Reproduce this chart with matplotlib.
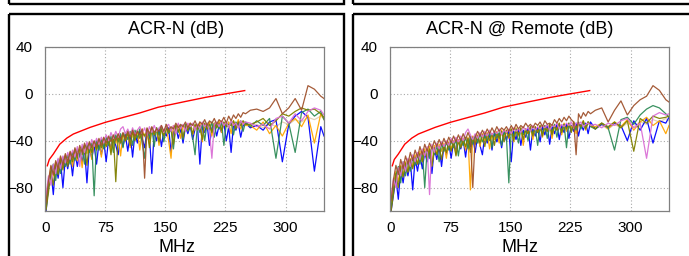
import matplotlib
matplotlib.use("Agg")
import matplotlib.pyplot as plt
from matplotlib.patches import Rectangle

plt.rcParams['font.family'] = ['Liberation Sans', 'DejaVu Sans']

# frequencies (MHz) shared by all pair traces
FREQ = [1, 4, 7, 10, 13, 16, 19, 22, 25, 28, 31, 34,
        37, 40, 43, 46, 49, 52, 55, 58, 61, 64, 67, 70,
        73, 76, 79, 82, 85, 88, 91, 94, 97, 100, 103, 106,
        109, 112, 115, 118, 121, 124, 127, 130, 133, 136, 139, 142,
        145, 148, 151, 154, 157, 160, 163, 166, 169, 172, 175, 178,
        181, 184, 187, 190, 193, 196, 199, 202, 205, 208, 211, 214,
        217, 220, 223, 226, 229, 232, 235, 238, 241, 244, 247, 250,
        256, 264, 272, 280, 288, 296, 304, 312, 320, 328, 336, 344, 348]

# limit line
LIMIT_F = [2.5, 5, 10, 18, 27, 35, 56, 75, 98, 118, 141, 175, 200, 225, 249]
LIMIT_DB = [-61.4, -56, -51.4, -43, -37.7, -34.3, -28.6, -24.3, -20, -16.3, -11.4,
            -6.5, -3, 0, 2.8]

# ACR-N, local end
L_TAN = [-90, -72, -68, -63, -60, -64, -57, -62, -55, -59, -53, -57,
         -50, -54, -48, -52, -46, -50, -45, -49, -44, -47, -43, -46,
         -42, -45, -41, -44, -40, -43, -39, -42, -38, -41, -37, -40,
         -36, -39, -35, -38, -34, -37, -34, -36, -33, -35, -32, -35,
         -31, -34, -31, -33, -30, -33, -30, -32, -29, -31, -28, -31,
         -28, -30, -27, -30, -27, -29, -26, -29, -26, -28, -25, -28,
         -25, -27, -24, -27, -24, -26, -24, -26, -23, -25, -23, -25,
         -27, -26, -29, -25, -28, -24, -26, -22, -24, -20, -22, -19, -21]
L_BLUE = [-100, -78, -66, -86, -60, -72, -57, -80, -55, -64, -52, -70,
          -50, -62, -49, -58, -47, -76, -45, -55, -44, -60, -42, -52,
          -40, -58, -39, -47, -38, -44, -52, -37, -45, -35, -49, -34,
          -54, -33, -42, -32, -38, -46, -31, -36, -68, -32, -40, -30,
          -45, -31, -36, -29, -50, -33, -28, -38, -30, -42, -28, -34,
          -27, -39, -30, -27, -60, -28, -33, -26, -44, -29, -26, -36,
          -27, -33, -25, -40, -28, -50, -26, -31, -25, -37, -27, -25,
          -29, -27, -31, -24, -22, -58, -26, -19, -15, -20, -66, -28, -36]
L_ORANGE = [-94, -76, -62, -70, -58, -66, -54, -63, -52, -59, -50, -62,
            -48, -57, -46, -63, -45, -51, -43, -56, -41, -47, -40, -54,
            -38, -45, -37, -49, -36, -42, -35, -53, -34, -40, -33, -46,
            -32, -39, -31, -48, -30, -36, -32, -43, -29, -35, -30, -44,
            -28, -34, -29, -40, -55, -27, -33, -26, -38, -27, -31, -28,
            -25, -35, -27, -31, -24, -41, -26, -30, -24, -36, -25, -29,
            -23, -33, -25, -28, -24, -34, -23, -29, -22, -30, -24, -27,
            -27, -31, -24, -34, -27, -36, -25, -21, -28, -18, -42, -17, -22]
L_GREEN = [-97, -80, -67, -60, -74, -56, -68, -54, -62, -52, -60, -50,
           -57, -47, -54, -45, -60, -43, -50, -42, -87, -40, -48, -39,
           -47, -37, -44, -36, -50, -35, -41, -34, -46, -33, -39, -32,
           -44, -31, -38, -30, -42, -55, -30, -37, -29, -45, -29, -35,
           -28, -41, -28, -34, -30, -47, -27, -33, -27, -39, -26, -32,
           -26, -37, -52, -26, -33, -25, -40, -25, -31, -24, -37, -25,
           -30, -24, -44, -25, -29, -24, -35, -24, -28, -23, -32, -24,
           -28, -23, -27, -21, -55, -19, -25, -50, -16, -13, -19, -15, -22]
L_OLIVE = [-99, -84, -66, -78, -59, -69, -56, -65, -53, -62, -51, -58,
           -48, -55, -47, -52, -44, -61, -42, -50, -41, -48, -40, -46,
           -39, -45, -38, -52, -36, -75, -35, -42, -34, -40, -33, -44,
           -32, -40, -31, -38, -33, -36, -30, -46, -30, -35, -29, -41,
           -30, -36, -28, -33, -29, -43, -27, -32, -28, -37, -27, -31,
           -27, -34, -26, -30, -27, -39, -25, -30, -26, -33, -25, -29,
           -25, -31, -24, -28, -26, -27, -23, -30, -24, -27, -23, -26,
           -26, -24, -21, -27, -23, -17, -19, -15, -12, -14, -13, -17, -20]
L_ORCHID = [-86, -70, -78, -60, -68, -55, -64, -53, -59, -50, -56, -48,
            -54, -45, -62, -43, -50, -41, -47, -39, -45, -38, -43, -37,
            -42, -35, -40, -33, -38, -32, -37, -30, -28, -34, -30, -36,
            -29, -35, -31, -28, -34, -29, -36, -28, -33, -27, -32, -29,
            -27, -33, -28, -26, -32, -27, -34, -25, -30, -26, -32, -25,
            -28, -25, -31, -26, -30, -24, -28, -25, -32, -55, -26, -24,
            -28, -23, -27, -24, -29, -23, -27, -25, -29, -23, -26, -24,
            -25, -28, -26, -30, -21, -19, -25, -17, -23, -15, -12, -14, -18]
L_BROWN = [-93, -74, -61, -69, -57, -64, -53, -61, -51, -58, -49, -55,
           -46, -53, -44, -50, -42, -48, -41, -46, -40, -45, -38, -44,
           -37, -42, -36, -41, -35, -40, -34, -39, -33, -38, -32, -37,
           -31, -36, -32, -35, -30, -72, -29, -34, -28, -33, -30, -32,
           -27, -32, -26, -31, -28, -30, -25, -29, -26, -28, -24, -29,
           -25, -27, -23, -28, -24, -26, -22, -27, -23, -25, -21, -26,
           -22, -24, -20, -25, -19, -23, -18, -21, -17, -20, -16, -17,
           -14, -13, -15, -12, -4, -17, -12, -4, -14, 7, 4, -2, -4]

# ACR-N, remote end
R_TAN = [-91, -74, -70, -66, -62, -65, -59, -63, -56, -60, -54, -58,
         -51, -55, -49, -53, -47, -51, -46, -50, -45, -48, -44, -47,
         -43, -46, -42, -45, -41, -44, -40, -43, -39, -42, -38, -41,
         -37, -40, -36, -39, -36, -38, -35, -38, -34, -37, -34, -36,
         -33, -36, -32, -35, -32, -34, -31, -34, -31, -33, -30, -33,
         -30, -32, -29, -32, -29, -31, -28, -31, -28, -30, -27, -30,
         -27, -29, -26, -29, -26, -28, -25, -28, -25, -27, -24, -26,
         -29, -27, -30, -26, -29, -25, -28, -24, -26, -22, -24, -21, -23]
R_BLUE = [-100, -86, -72, -90, -64, -76, -60, -70, -58, -82, -55, -66,
          -52, -64, -50, -58, -48, -68, -46, -56, -45, -62, -44, -52,
          -42, -55, -41, -49, -40, -47, -39, -54, -38, -45, -37, -50,
          -36, -44, -52, -35, -42, -34, -48, -33, -41, -34, -46, -32,
          -40, -31, -58, -32, -39, -30, -44, -31, -37, -29, -48, -30,
          -36, -29, -41, -28, -35, -27, -43, -28, -34, -26, -39, -27,
          -33, -26, -38, -27, -32, -25, -36, -26, -31, -25, -34, -24,
          -30, -26, -29, -25, -27, -40, -23, -31, -21, -42, -23, -25, -20]
R_ORANGE = [-95, -78, -66, -75, -61, -70, -58, -66, -55, -62, -52, -60,
            -49, -58, -47, -55, -45, -61, -44, -51, -43, -49, -42, -55,
            -41, -47, -40, -52, -39, -45, -38, -48, -37, -82, -36, -43,
            -35, -45, -34, -40, -33, -47, -34, -39, -32, -42, -31, -37,
            -31, -38, -30, -41, -29, -36, -29, -44, -30, -34, -28, -39,
            -28, -33, -27, -37, -27, -32, -26, -38, -27, -31, -25, -35,
            -25, -32, -26, -29, -24, -34, -25, -28, -23, -31, -24, -27,
            -28, -25, -30, -24, -28, -22, -31, -24, -20, -27, -23, -34, -27]
R_GREEN = [-97, -82, -70, -62, -76, -58, -70, -56, -66, -54, -61, -52,
           -60, -49, -80, -47, -55, -45, -52, -44, -58, -42, -49, -41,
           -48, -40, -46, -39, -53, -38, -44, -37, -47, -36, -43, -35,
           -42, -34, -41, -36, -40, -33, -46, -32, -38, -33, -44, -32,
           -37, -76, -31, -36, -30, -42, -30, -35, -31, -40, -29, -34,
           -29, -44, -28, -34, -27, -38, -28, -33, -26, -37, -27, -32,
           -26, -46, -25, -32, -26, -31, -24, -30, -25, -29, -24, -28,
           -30, -25, -29, -48, -22, -20, -26, -18, -13, -10, -12, -17, -20]
R_OLIVE = [-100, -85, -68, -80, -62, -71, -59, -67, -56, -64, -54, -60,
           -51, -58, -49, -55, -47, -62, -46, -52, -45, -56, -44, -50,
           -42, -49, -41, -53, -40, -46, -39, -45, -38, -50, -37, -43,
           -36, -42, -35, -45, -34, -40, -34, -44, -33, -38, -32, -41,
           -31, -37, -30, -40, -31, -35, -29, -39, -30, -34, -28, -36,
           -28, -33, -27, -36, -28, -32, -26, -35, -27, -31, -25, -33,
           -26, -30, -25, -33, -24, -29, -25, -28, -23, -30, -24, -27,
           -30, -25, -28, -24, -29, -23, -49, -21, -25, -19, -21, -20, -19]
R_ORCHID = [-88, -72, -80, -63, -70, -58, -66, -55, -62, -52, -58, -50,
            -56, -47, -53, -45, -86, -43, -50, -42, -47, -41, -45, -40,
            -44, -38, -42, -37, -41, -36, -40, -33, -30, -35, -39, -34,
            -38, -33, -37, -32, -36, -31, -35, -32, -34, -30, -35, -31,
            -33, -30, -34, -29, -32, -30, -33, -28, -31, -29, -32, -27,
            -31, -28, -30, -27, -29, -26, -31, -27, -28, -25, -30, -26,
            -28, -25, -27, -24, -29, -25, -26, -24, -28, -26, -25, -27,
            -26, -29, -25, -27, -23, -21, -29, -25, -55, -19, -16, -18, -17]
R_BROWN = [-91, -73, -61, -69, -56, -64, -53, -60, -50, -57, -48, -54,
           -45, -52, -43, -49, -42, -47, -40, -45, -39, -44, -38, -43,
           -37, -42, -36, -41, -35, -40, -34, -39, -33, -38, -80, -37,
           -32, -36, -31, -35, -30, -34, -29, -33, -28, -32, -29, -31,
           -28, -32, -27, -31, -26, -30, -27, -29, -25, -28, -26, -29,
           -25, -27, -24, -28, -23, -26, -25, -27, -22, -25, -21, -24,
           -20, -23, -19, -22, -24, -52, -17, -21, -16, -19, -15, -17,
           -14, -12, -24, -14, -6, -18, -10, -5, -2, 7, 3, -5, -7]

PAIR_COLORS = ['#d2b48c', '#0000ff', '#ffa500', '#2e8b57', '#808000', '#da70d6', '#a0522d']

panels = [
    ("ACR-N (dB)", [L_TAN, L_BLUE, L_ORANGE, L_GREEN, L_OLIVE, L_ORCHID, L_BROWN]),
    ("ACR-N @ Remote (dB)", [R_TAN, R_BLUE, R_ORANGE, R_GREEN, R_OLIVE, R_ORCHID, R_BROWN]),
]

W, H = 689, 256
fig = plt.figure(figsize=(W / 100, H / 100), dpi=100)

box_left = [9, 353]
box_right = [344, 700]

for i, (title, series) in enumerate(panels):
    # frames around each panel (and the bottom of the row above)
    x0 = box_left[i] / W
    x1 = box_right[i] / W
    fig.add_artist(Rectangle((x0, 1 - 14.3 / H), x1 - x0, -1, transform=fig.transFigure,
                             fill=False, ec='black', lw=1.7, clip_on=False))
    fig.add_artist(Rectangle((x0, 1 - 3.7 / H), x1 - x0, 1, transform=fig.transFigure,
                             fill=False, ec='black', lw=1.7, clip_on=False))

    ax_left = (45.3 + 345 * i) / W
    ax = fig.add_axes([ax_left, 1 - 211 / H, 278.7 / W, 164 / H])
    for vals, col in zip(series, PAIR_COLORS):
        a = 0.6 if col == '#d2b48c' else 0.95
        ax.plot(FREQ, vals, color=col, lw=0.9, alpha=a)
    ax.plot(LIMIT_F, LIMIT_DB, color='red', lw=1.0)

    ax.set_xlim(0, 348)
    ax.set_ylim(-100, 40)
    ax.set_xticks([0, 75, 150, 225, 300])
    ax.set_yticks([40, 0, -40, -80])
    ax.tick_params(length=0, labelsize=11, pad=7)
    ax.tick_params(axis='y', pad=9)
    ax.grid(True, color='#a8a8a8', linestyle=(0, (1, 2)), lw=0.8)
    for s in ax.spines.values():
        s.set_color('#808080')
        s.set_linewidth(0.9)

    cx = (box_left[i] + min(box_right[i], 687)) / 2 / W
    fig.text(cx, 1 - 29.5 / H, title, ha='center', va='center', fontsize=13)
    fig.text(cx, 1 - 248 / H, "MHz", ha='center', va='center', fontsize=13)

fig.savefig("out.png", dpi=100)
